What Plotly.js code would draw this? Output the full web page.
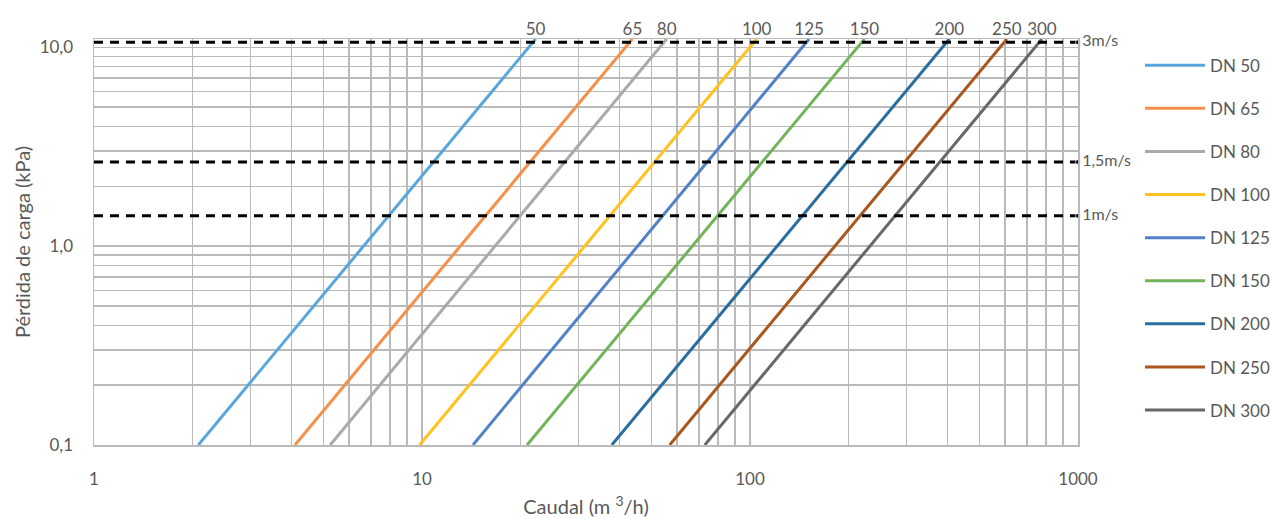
<!DOCTYPE html>
<html>
<head>
<meta charset="utf-8">
<script src="https://cdn.plot.ly/plotly-3.0.1.min.js"></script>
<style>html,body{margin:0;padding:0;background:#fff;}#chart{width:1271px;height:518px;}</style>
</head>
<body>
<div id="chart"></div>
<script>
// Series: pipe diameters (DN), each a straight line on log-log axes
const dnNames   = ['DN 50','DN 65','DN 80','DN 100','DN 125','DN 150','DN 200','DN 250','DN 300'];
const dnLabels  = ['50','65','80','100','125','150','200','250','300'];
const dnColors  = ['#5AA6DC','#F4904A','#AAAAAA','#FFC21F','#5182C8','#72B45A','#2A6EA0','#A9561F','#656969'];
// Flow (m3/h) at the lowest and highest plotted loss
const lossEnds  = [0.1, 11];
const qAtLow    = [2.08, 4.10, 5.25, 9.83, 14.3, 20.9, 37.9, 56.9, 72.8];
const qAtHigh   = [22.2, 43.8, 55.7, 104.8, 151.4, 223.3, 405.2, 607.0, 776.3];
// Velocity reference lines (loss, kPa)
const velLabels = ['3m/s','1,5m/s','1m/s'];
const velLoss   = [10.6, 2.65, 1.42];
const velQ      = [1, 1000];
// Tick labels
const xTickVals = [1,2,3,4,5,6,7,8,9,10,20,30,40,50,60,70,80,90,100,200,300,400,500,600,700,800,900,1000];
const xTickText = xTickVals.map(v => [1,10,100,1000].includes(v) ? String(v) : '');
const yTickVals = [0.1,0.2,0.3,0.4,0.5,0.6,0.7,0.8,0.9,1,2,3,4,5,6,7,8,9,10];
const yTickMap  = {0.1:'0,1', 1:'1,0', 10:'10,0'};
const yTickText = yTickVals.map(v => yTickMap[v] || '');

const FONT = 'Lato, "Open Sans", sans-serif';
const TXT = '#595959';
const traces = [];
dnNames.forEach((n,i) => {
  traces.push({
    x: [qAtLow[i], qAtHigh[i]], y: lossEnds,
    type: 'scatter', mode: 'lines+text', name: n,
    line: {color: dnColors[i], width: 3},
    text: ['', dnLabels[i]], textposition: 'top center',
    textfont: {family: FONT, size: 17, color: TXT},
    cliponaxis: false, legendgroup: 'g'+i, hoverinfo: 'x+y+name'
  });
});
velLabels.forEach((lab,i) => {
  traces.push({
    x: velQ, y: [velLoss[i], velLoss[i]],
    type: 'scatter', mode: 'lines+markers+text', showlegend: false,
    line: {color: '#000', width: 3, dash: '9px,7px'},
    marker: {size: [0,5], color: '#000'},
    text: ['', lab], textposition: 'middle right',
    textfont: {family: FONT, size: 16, color: TXT},
    cliponaxis: false, hoverinfo: 'y'
  });
});

const gridC = '#bababa';
const layout = {
  width: 1271, height: 518,
  margin: {l: 94, r: 193, t: 39, b: 73, pad: 0, autoexpand: false},
  paper_bgcolor: '#fff', plot_bgcolor: '#fff',
  font: {family: FONT, size: 17, color: TXT},
  showlegend: true,
  legend: {x: 1.063, xanchor: 'left', y: 0.9786, yanchor: 'top',
           font: {family: FONT, size: 17, color: TXT},
           tracegroupgap: 18, itemwidth: 60, bgcolor: 'rgba(0,0,0,0)'},
  xaxis: {type: 'log', range: [0, 3],
          tickvals: xTickVals, ticktext: xTickText,
          showgrid: true, gridcolor: gridC, gridwidth: 1.5,
          showline: true, linecolor: gridC, linewidth: 1.5, mirror: true,
          ticks: 'outside', ticklen: 18, tickcolor: 'rgba(0,0,0,0)',
          tickfont: {family: FONT, size: 17, color: TXT},
          zeroline: false,
          title: {text: 'Caudal (m <sup>3</sup>/h)', font: {family: FONT, size: 20, color: TXT}, standoff: 12}},
  yaxis: {type: 'log', range: [-1, 1.0415],
          tickvals: yTickVals, ticktext: yTickText,
          showgrid: true, gridcolor: gridC, gridwidth: 1.5,
          showline: true, linecolor: gridC, linewidth: 1.5, mirror: true,
          ticks: 'outside', ticklen: 16, tickcolor: 'rgba(0,0,0,0)',
          tickfont: {family: FONT, size: 17, color: TXT},
          zeroline: false,
          title: {text: 'Pérdida de carga (kPa)', font: {family: FONT, size: 20, color: TXT}, standoff: 3}}
};
Plotly.newPlot('chart', traces, layout, {displayModeBar: false, staticPlot: true});
</script>
</body>
</html>
